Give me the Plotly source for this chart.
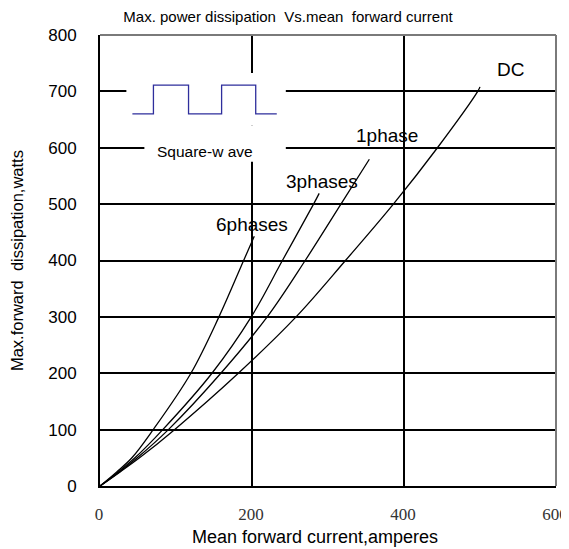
import plotly.graph_objects as go

# ---- data ----
current_6ph = [0, 22, 42, 70, 119.6, 156.5, 189, 203]
power_6ph = [0, 25, 50, 100, 200, 300, 400, 443]

current_3ph = [0, 24, 46, 82.6, 147.3, 199, 240, 281, 288.4]
power_3ph = [0, 25, 50, 100, 200, 300, 400, 500, 519]

current_1ph = [0, 25.5, 49, 90, 159, 220, 270, 317, 354.4]
power_1ph = [0, 25, 50, 100, 200, 300, 400, 500, 579.6]

current_dc = [0, 26.5, 52, 98, 182, 258, 323, 386, 444, 497, 500]
power_dc = [0, 25, 50, 100, 200, 300, 400, 500, 600, 700, 708]

square_x = [42.6, 70.3, 70.3, 116.5, 116.5, 160, 160, 204.9, 204.9, 232.6]
square_y = [660, 660, 711, 711, 660, 660, 711, 711, 660, 660]

curve_labels = ["6phases", "3phases", "1phase", "DC"]
label_x = [200, 291.5, 377, 540]
label_y = [463, 540, 621, 738]

x_ticks = [0, 200, 400, 600]
y_ticks = [0, 100, 200, 300, 400, 500, 600, 700, 800]

SANS = "Liberation Sans, Arial"
SERIF = "Liberation Serif, Times New Roman"

# the page body has an 8px margin, so the figure is shifted by 8px
PAGE_OFF = 8
W, H = 569, 549 - PAGE_OFF
PLOT_RIGHT = 556  # page pixel of the right plot edge

fig = go.Figure()
line_style = dict(color="black", width=1.3, shape="spline", smoothing=1.0)
for cx, py in [(current_6ph, power_6ph), (current_3ph, power_3ph),
               (current_1ph, power_1ph), (current_dc, power_dc)]:
    fig.add_trace(go.Scatter(x=cx, y=py, mode="lines", line=line_style,
                             showlegend=False, hoverinfo="skip"))

fig.add_trace(go.Scatter(x=square_x, y=square_y, mode="lines",
                         line=dict(color="#2e2e9c", width=1.3),
                         showlegend=False, hoverinfo="skip"))

for t, x, y in zip(curve_labels, label_x, label_y):
    fig.add_annotation(x=x, y=y, text=t, showarrow=False,
                       font=dict(family=SANS, size=19, color="black"))

fig.add_annotation(x=137.6, y=594, text="Square-w ave", showarrow=False,
                   font=dict(family=SANS, size=15.5, color="black"))

# white boxes that interrupt the grid around the inset
fig.add_shape(type="rect", x0=34.7, x1=244.5, y0=640, y1=732.5, layer="between",
              fillcolor="white", line=dict(width=0))
fig.add_shape(type="rect", x0=58.4, x1=244.5, y0=575, y1=640, layer="between",
              fillcolor="white", line=dict(width=0))

# grey top / right frame
fig.add_shape(type="line", xref="paper", yref="paper", x0=0, x1=1, y0=1, y1=1,
              line=dict(color="#7a7a7a", width=2), layer="above")
fig.add_shape(type="line", xref="paper", yref="paper", x0=1, x1=1, y0=0, y1=1,
              line=dict(color="#7a7a7a", width=2), layer="above")

# axis titles
fig.add_annotation(xref="paper", yref="paper", x=0.4715, y=-0.112,
                   text="Mean forward current,amperes", showarrow=False,
                   xanchor="center", yanchor="middle",
                   font=dict(family=SANS, size=18, color="black"))
fig.add_annotation(xref="paper", yref="paper", x=-0.183, y=0.5,
                   text="Max.forward  dissipation,watts", showarrow=False,
                   textangle=-90, xanchor="center", yanchor="middle",
                   font=dict(family=SANS, size=16.5, color="black"))

fig.update_layout(
    width=W, height=H,
    margin=dict(l=100 - PAGE_OFF, r=W - (PLOT_RIGHT - PAGE_OFF),
                t=35 - PAGE_OFF, b=62.5, pad=0),
    paper_bgcolor="white", plot_bgcolor="white",
    title=dict(text="Max. power dissipation  Vs.mean  forward current",
               x=(288 - PAGE_OFF) / W, xref="container", xanchor="center",
               y=1 - (17 - PAGE_OFF) / H, yref="container", yanchor="middle",
               font=dict(family=SANS, size=15, color="black")),
    xaxis=dict(range=[0, 600], tickvals=x_ticks, ticktext=[str(v) for v in x_ticks],
               showgrid=True, gridcolor="black", gridwidth=1.6,
               showline=True, linecolor="black", linewidth=2,
               zeroline=False, ticks="", ticklabelstandoff=12, ticklabelshift=-1,
               automargin=False, ticklabeloverflow="allow",
               tickfont=dict(family=SERIF, size=17, color="#333333")),
    yaxis=dict(range=[0, 800], tickvals=y_ticks, ticktext=[str(v) for v in y_ticks],
               showgrid=True, gridcolor="black", gridwidth=1.6,
               showline=True, linecolor="black", linewidth=2,
               zeroline=False, ticks="", ticklabelstandoff=18, automargin=False,
               ticklabeloverflow="allow",
               tickfont=dict(family=SANS, size=17, color="black")),
)

fig.write_html("out.html")
